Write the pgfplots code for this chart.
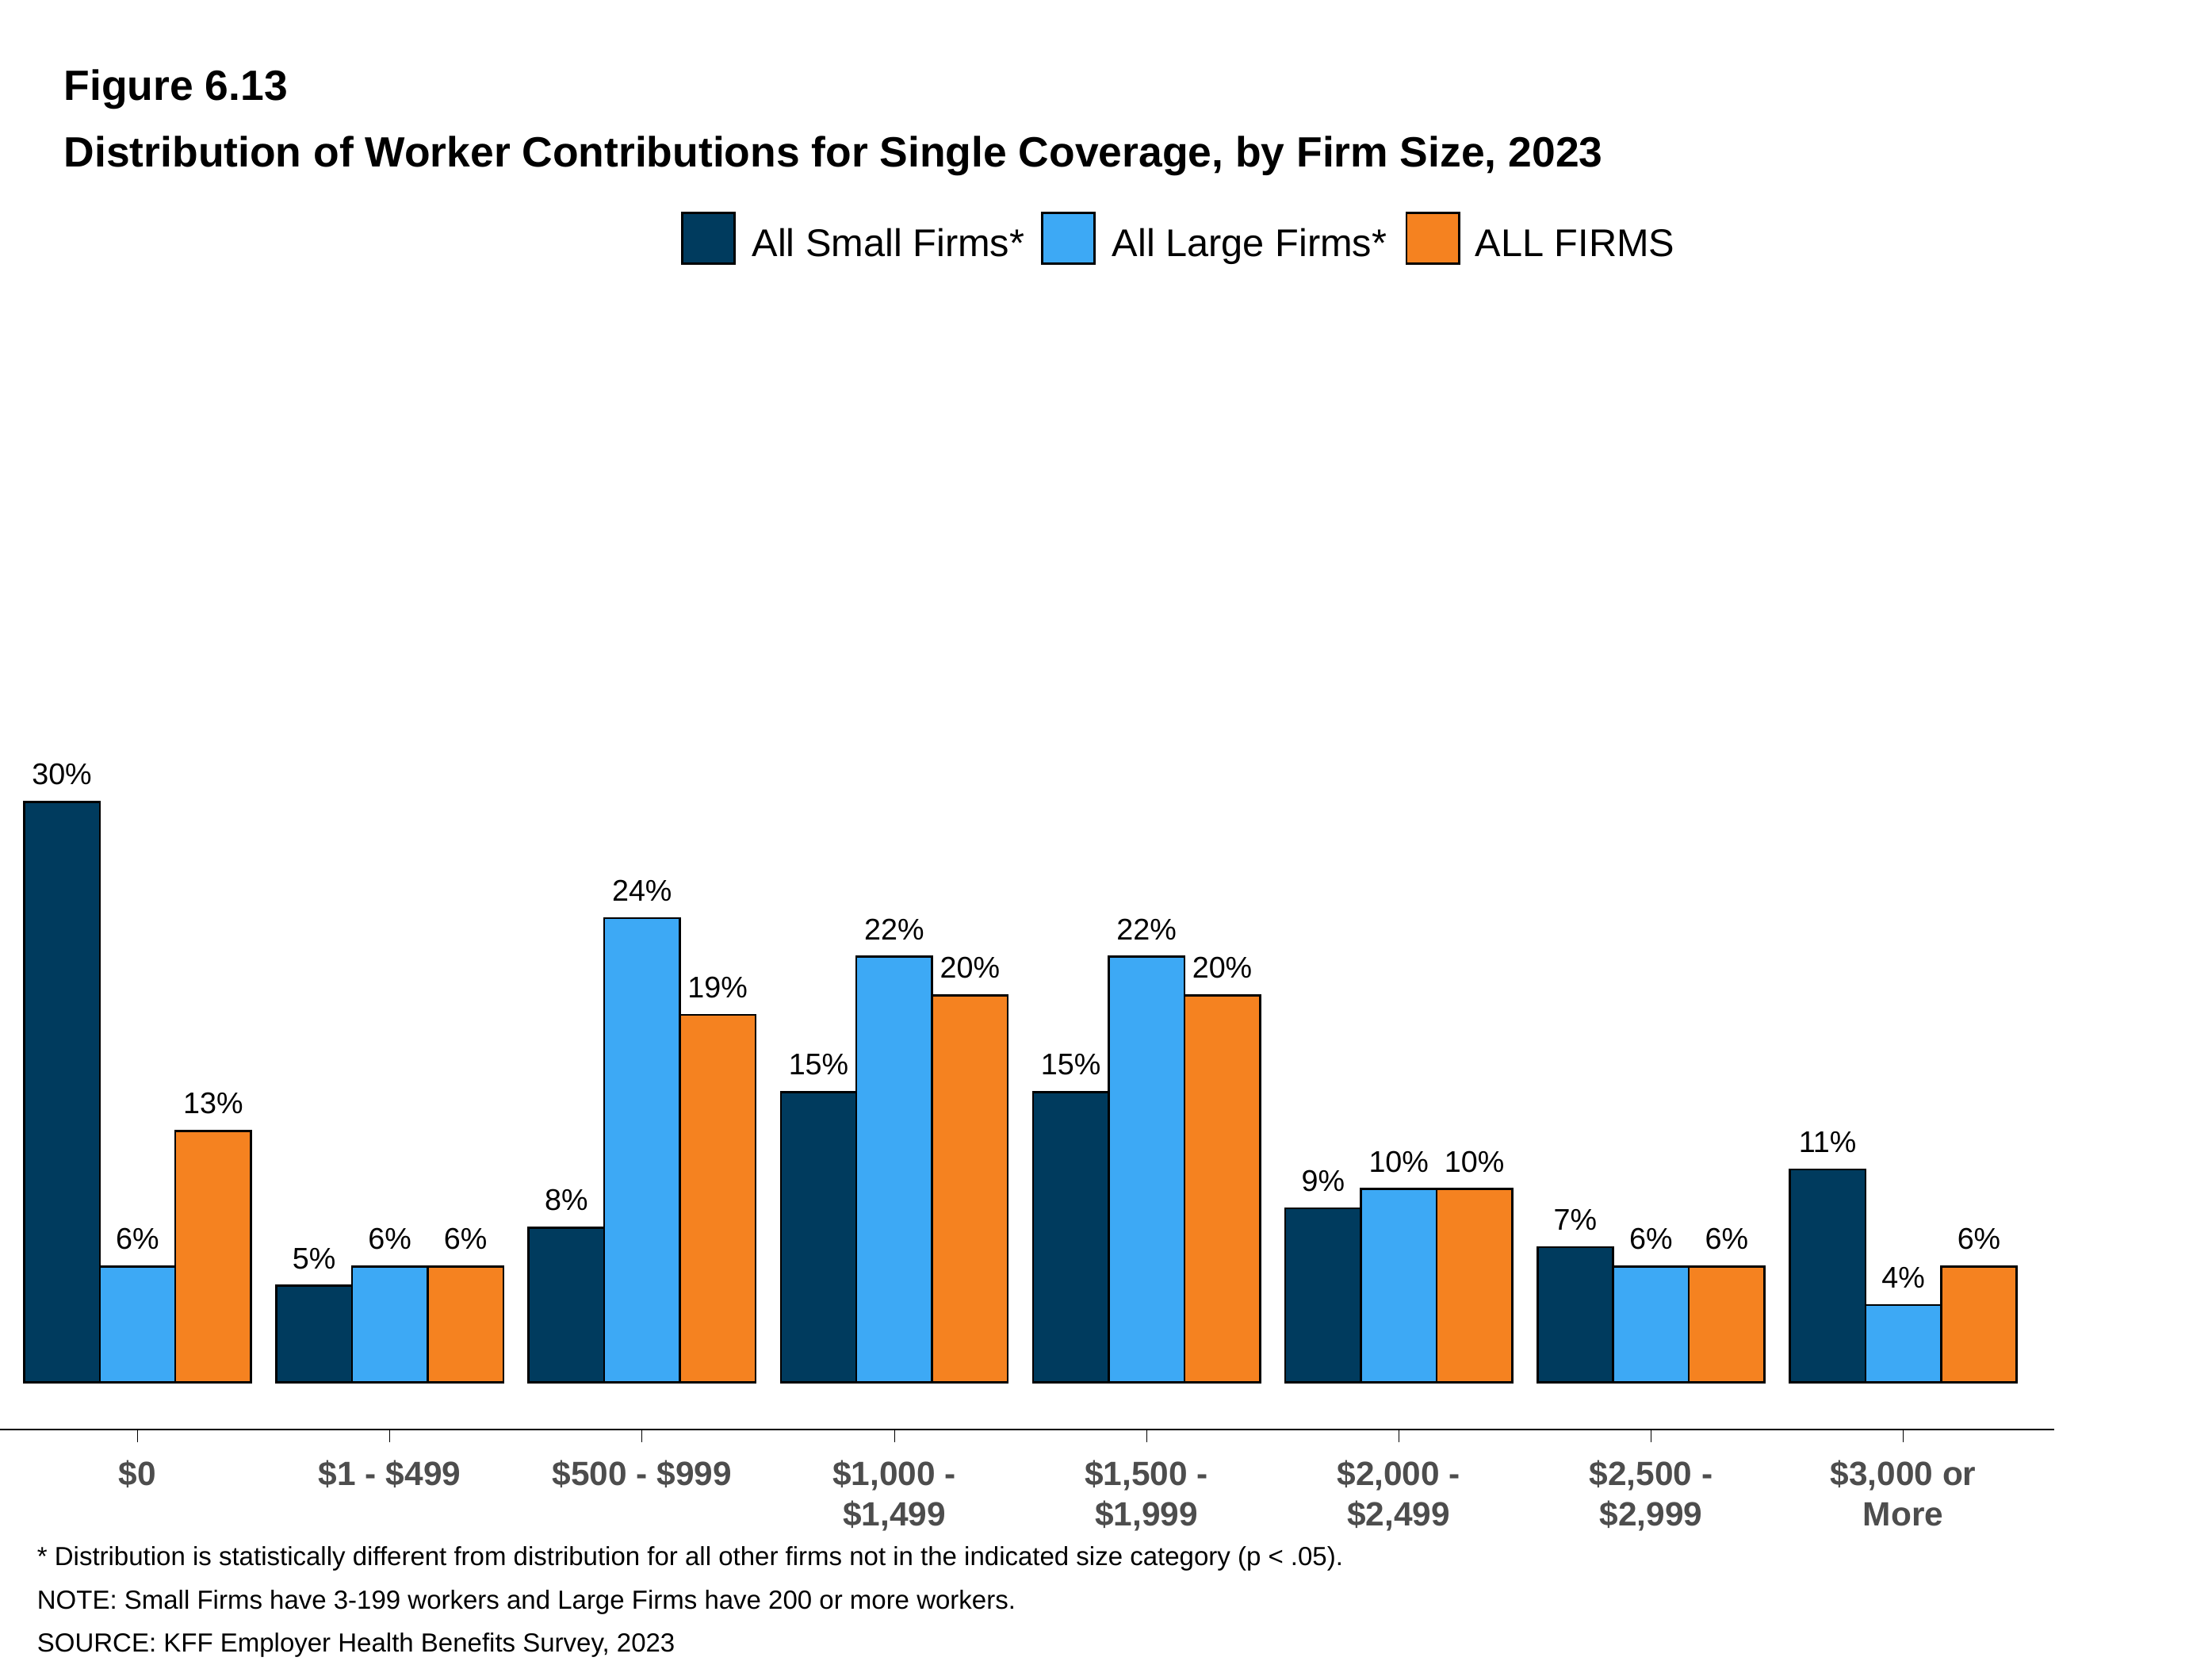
\documentclass[border=0pt]{standalone}
\usepackage{pgfplots}
\pgfplotsset{compat=1.18}
\usepackage{fontspec}
\setmainfont{Liberation Sans}
\definecolor{navy}{RGB}{0,59,94}
\definecolor{lblue}{RGB}{61,169,245}
\definecolor{orng}{RGB}{245,130,32}
\definecolor{tgray}{RGB}{77,77,77}
\begin{document}
\begin{tikzpicture}
\useasboundingbox (0,0) rectangle (31.2cm,-23.48cm);
\node[anchor=west,font=\fontsize{17}{20}\selectfont\bfseries] at (0.78cm,-1.26cm) {Figure 6.13};
\node[anchor=west,font=\fontsize{17}{20}\selectfont\bfseries] at (0.78cm,-2.2cm) {Distribution of Worker Contributions for Single Coverage, by Firm Size, 2023};
\foreach \xa/\xt/\c/\t in {9.62/10.6/navy/All Small Firms*,14.7/15.68/lblue/All Large Firms*,19.84/20.8/orng/ALL FIRMS}{
  \draw[black,thick,fill=\c] (\xa cm,-3.0cm) rectangle ++(0.74cm,-0.72cm);
  \node[anchor=base west,font=\fontsize{15.5}{18}\selectfont,inner sep=0pt] at (\xt cm,-3.62cm) {\t};
}
\begin{axis}[at={(1.94cm,-19.5cm)},anchor=origin,
  scale only axis, width=29.16cm, height=14.94cm,
  ybar=0pt, bar width=0.3,
  xmin=-0.596, xmax=7.6, ymin=-2.42, ymax=52.3,
  axis x line*=bottom, axis y line*=left,
  xtick=data, xticklabels={\$0,\$1 - \$499,\$500 - \$999,{\$1,000 -\\\$1,499},{\$1,500 -\\\$1,999},{\$2,000 -\\\$2,499},{\$2,500 -\\\$2,999},{\$3,000 or\\More}},
  xticklabel style={align=center,font=\fontsize{13.5}{16}\selectfont\bfseries,text=tgray,yshift=-4pt},
  ytick={0,10,20,30,40,50}, yticklabel={\pgfmathprintnumber{\tick}\%},
  yticklabel style={font=\fontsize{11}{13}\selectfont,text=tgray},
  /pgf/number format/assume math mode=true,
  ylabel={Percentage of Covered Workers}, ylabel style={font=\fontsize{13.5}{16}\selectfont,yshift=-4pt},
  tick style={black}, major tick length=5pt,
  axis line style={black,thick},
  nodes near coords={\pgfmathprintnumber{\pgfplotspointmeta}\%},
  every node near coord/.append style={font=\fontsize{12}{14}\selectfont,black,yshift=3pt},
]
\addplot[draw=black,fill=navy,thick] coordinates {(0,30)(1,5)(2,8)(3,15)(4,15)(5,9)(6,7)(7,11)};
\addplot[draw=black,fill=lblue,thick] coordinates {(0,6)(1,6)(2,24)(3,22)(4,22)(5,10)(6,6)(7,4)};
\addplot[draw=black,fill=orng,thick] coordinates {(0,13)(1,6)(2,19)(3,20)(4,20)(5,10)(6,6)(7,6)};
\end{axis}
\foreach \y/\t in {21.98/{* Distribution is statistically different from distribution for all other firms not in the indicated size category (p < .05).},22.6/{NOTE: Small Firms have 3-199 workers and Large Firms have 200 or more workers.},23.2/{SOURCE: KFF Employer Health Benefits Survey, 2023}}
  \node[anchor=west,font=\fontsize{10.5}{12}\selectfont] at (0.4cm,-\y cm) {\t};
\end{tikzpicture}
\end{document}
